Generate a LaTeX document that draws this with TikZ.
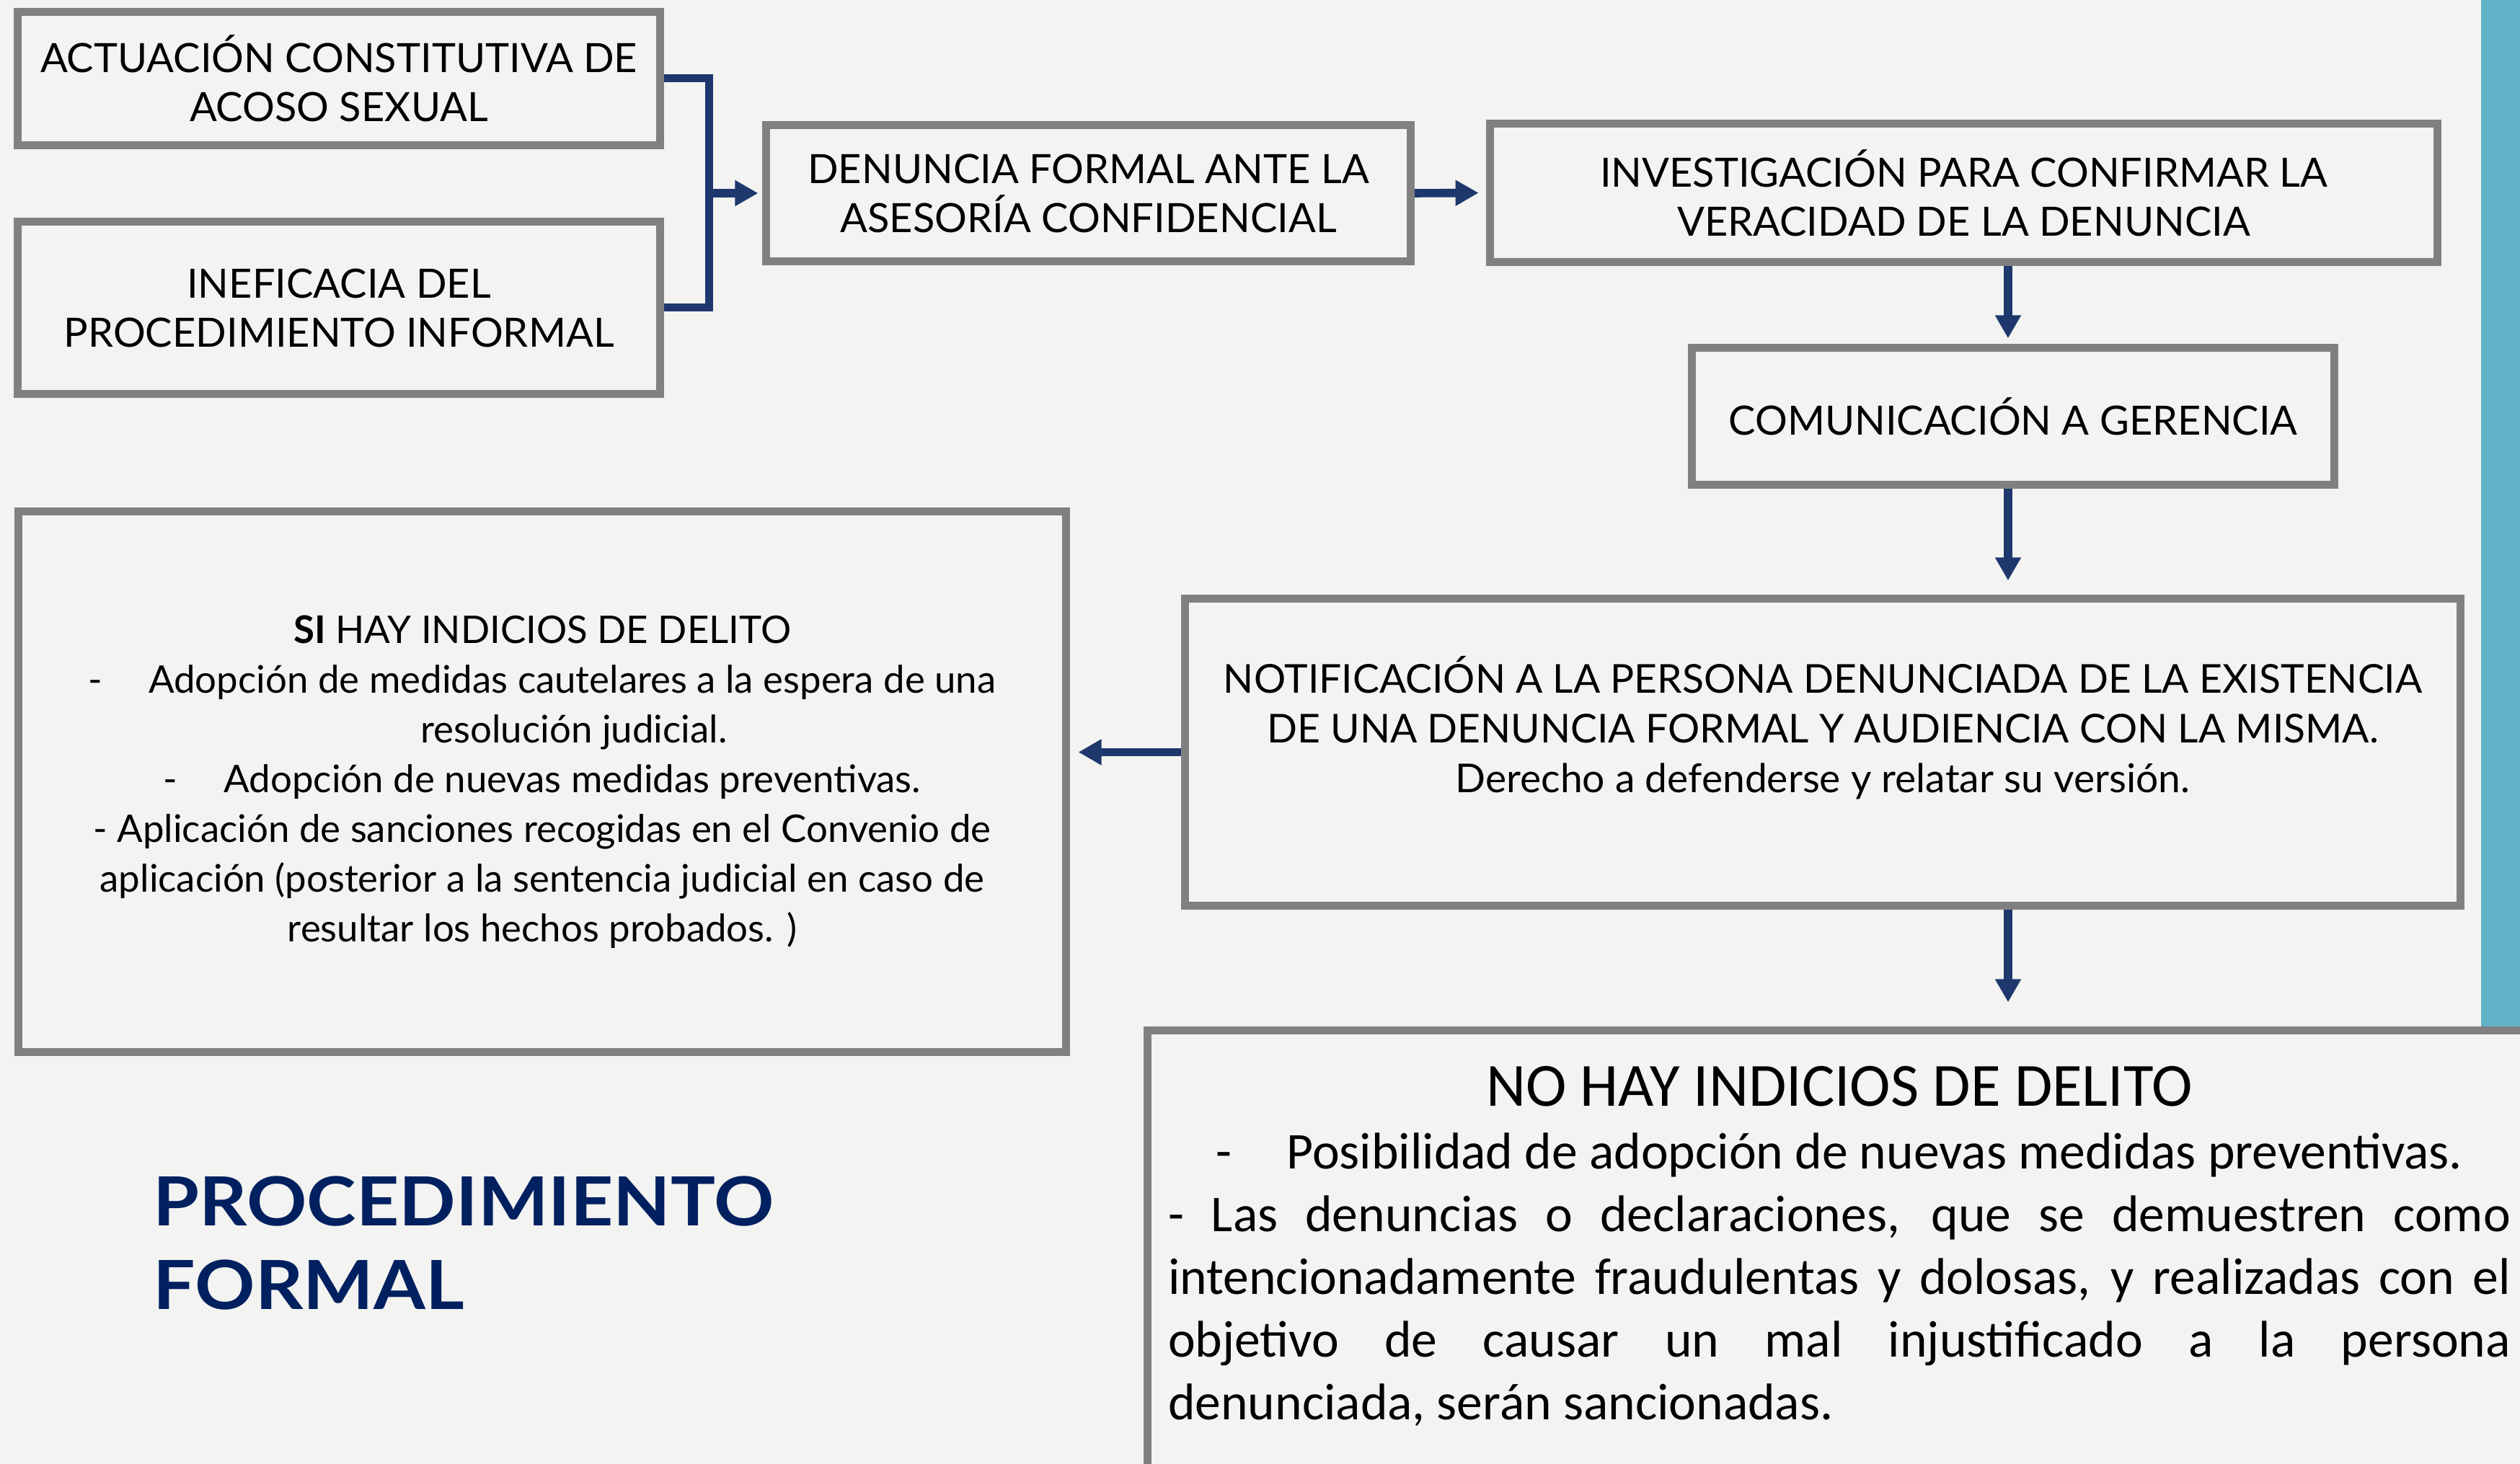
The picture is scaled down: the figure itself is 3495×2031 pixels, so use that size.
\documentclass[tikz,border=0pt]{standalone}
\usepackage{fontspec}
\setmainfont{Lato}
\newfontfamily\calibri{Carlito}
\newfontfamily\titulofont[FakeStretch=1.1]{Lato}
\usetikzlibrary{arrows.meta}
\definecolor{fondo}{HTML}{F3F3F1}
\definecolor{borde}{HTML}{808080}
\definecolor{azul}{HTML}{1E386E}
\definecolor{turquesa}{HTML}{62B2C7}
\definecolor{marino}{HTML}{002060}

\begin{document}
\begin{tikzpicture}[x=0.25pt,y=-0.25pt,
  caja/.style={draw=borde, line width=2.75pt, fill=fondo, align=center, inner sep=0pt,
    font=\fontsize{14}{17}\selectfont},
  flecha/.style={azul, line width=2.9pt, -{Triangle[length=8pt,width=8.5pt]}}]
\fill[fondo] (0,0) rectangle (3495,2031);
\useasboundingbox (0,0) rectangle (3495,2031);
\clip (0,0) rectangle (3495,2031);
\fill[turquesa] (3441,0) rectangle (3495,1424);

\node[caja, minimum width=222.75pt, minimum height=46.25pt] (acto) at (470,109)
  {ACTUACIÓN CONSTITUTIVA DE\\ACOSO SEXUAL};
\node[caja, minimum width=222.75pt, minimum height=59.75pt] (ineficacia) at (470,427)
  {INEFICACIA DEL\\PROCEDIMIENTO INFORMAL};
\node[caja, minimum width=223.5pt, minimum height=47.25pt] (denuncia) at (1509.5,268)
  {DENUNCIA FORMAL ANTE LA\\ASESORÍA CONFIDENCIAL};
\node[caja, minimum width=328.5pt, minimum height=48pt] (investigacion) at (2723.5,267.5)
  {INVESTIGACIÓN PARA CONFIRMAR LA\\VERACIDAD DE LA DENUNCIA};
\node[caja, minimum width=222.75pt, minimum height=47.5pt] (comunicacion) at (2792,577.5)
  {COMUNICACIÓN A GERENCIA};
\node[caja, minimum width=442.25pt, minimum height=106.5pt] (notificacion) at (2528,1043.5) {};
\node[align=center, inner sep=0pt, font=\fontsize{13.8}{17.25}\selectfont] (notiftexto) at (2528,1010)
  {NOTIFICACIÓN A LA PERSONA DENUNCIADA DE LA EXISTENCIA\\
   DE UNA DENUNCIA FORMAL Y AUDIENCIA CON LA MISMA.\\
   Derecho a defenderse y relatar su versión.};
\node[caja, minimum width=363.25pt, minimum height=187.5pt, font=\fontsize{13.2}{17.25}\selectfont] (sihay) at (752,1084.5)
  {{\bfseries SI} HAY INDICIOS DE DELITO\\
   -\hspace*{16pt}Adopción de medidas cautelares a la espera de una\\
   \hspace*{22pt}resolución judicial.\\
   -\hspace*{16pt}Adopción de nuevas medidas preventivas.\\
   - Aplicación de sanciones recogidas en el Convenio de\\
   aplicación (posterior a la sentencia judicial en caso de\\
   resultar los hechos probados. )};
\node[caja, minimum width=490.75pt, minimum height=166.25pt] (nohay) at (2573,1762) {};
\node[anchor=north, inner sep=0pt, text width=465.5pt, align=justify,
  font=\calibri\fontsize{17.9}{21.75}\selectfont] (nohaytexto) at (2551,1478)
  {{\centering{\fontsize{21.3}{21.75}\selectfont NO HAY INDICIOS DE DELITO}\par
   -\hspace*{19pt}Posibilidad de adopción de nuevas medidas preventivas.\par}
   - Las denuncias o declaraciones, que se demuestren como\linebreak
   intencionadamente fraudulentas y dolosas, y realizadas con el\linebreak
   objetivo de causar un mal injustificado a la persona\linebreak
   denunciada, serán sancionadas.};
\node[anchor=north west, align=left, inner sep=0pt, text=marino,
  font=\titulofont\bfseries\fontsize{23.5}{29}\selectfont] (titulo) at (212,1631)
  {PROCEDIMIENTO\\FORMAL};

\coordinate (union) at (983,268);
\coordinate (eje) at (2785,0);
\draw[azul, line width=2.75pt] (acto.east) -- (acto.east -| union)
  -- (ineficacia.east -| union) -- (ineficacia.east);
\draw[flecha, shorten >=1.4pt] (union) -- (denuncia.west);
\draw[flecha, shorten >=2.6pt] (denuncia.east) -- (investigacion.west);
\draw[flecha, shorten >=1.9pt] (investigacion.south -| eje) -- (comunicacion.north -| eje);
\draw[flecha, shorten >=4.9pt] (comunicacion.south -| eje) -- (notificacion.north -| eje);
\draw[flecha, shorten >=2.9pt] (notificacion.west) -- (sihay.east |- notificacion.west);
\draw[flecha, shorten >=8.4pt] (notificacion.south -| eje) -- (nohay.north -| eje);
\end{tikzpicture}
\end{document}
